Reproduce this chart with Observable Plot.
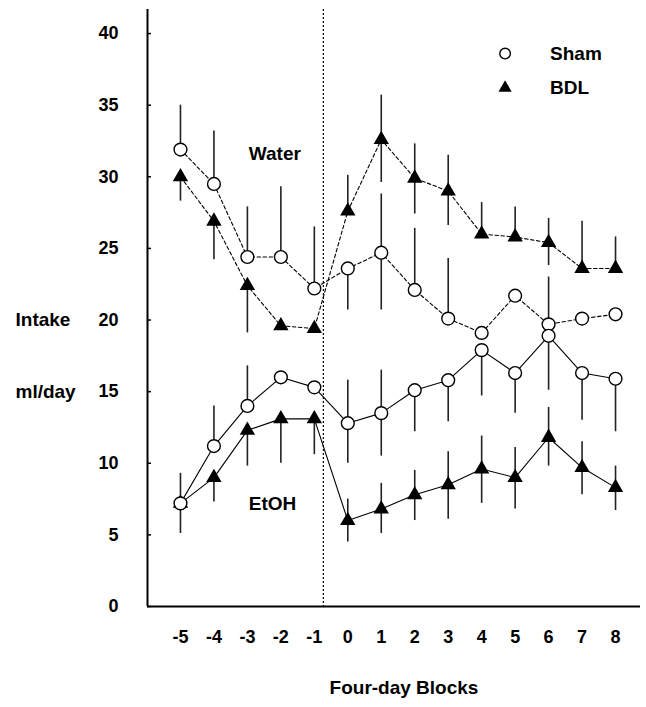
<!DOCTYPE html>
<html>
<head>
<meta charset="utf-8">
<script src="https://cdn.jsdelivr.net/npm/d3@7"></script>
<script src="https://cdn.jsdelivr.net/npm/@observablehq/plot@0.6"></script>
<style>
  html, body { margin: 0; padding: 0; background: #fff; }
  #chart { width: 646px; height: 707px; }
</style>
</head>
<body>
<div id="chart"></div>
<script>
// ---- data ----
const blocks = [-5, -4, -3, -2, -1, 0, 1, 2, 3, 4, 5, 6, 7, 8];
const yTicks = [0, 5, 10, 15, 20, 25, 30, 35, 40];
const seriesNames = ["Sham", "BDL"];

// Water intake (dashed lines)
const waterSham   = [31.9, 29.5, 24.4, 24.4, 22.2, 23.6, 24.7, 22.1, 20.1, 19.1, 21.7, 19.7, 20.1, 20.4];
const waterShamHi = [35.0, 33.2, 27.9, 29.3, 26.5, null, 28.8, 26.4, 24.3, null, null, null, null, null];
const waterShamLo = [null, null, null, null, null, 20.7, 20.7, null, null, null, null, null, null, null];

const waterBDL    = [30.0, 26.9, 22.4, 19.6, 19.4, 27.6, 32.6, 29.9, 29.0, 26.0, 25.8, 25.4, 23.6, 23.6];
const waterBDLHi  = [null, null, null, null, null, 30.1, 35.7, 32.3, 31.5, 28.2, 27.9, 27.1, 26.9, 25.8];
const waterBDLLo  = [28.3, 24.2, 19.1, null, null, null, 29.6, 27.4, 26.6, null, null, 23.8, null, null];

// EtOH intake (solid lines)
const etohSham    = [7.2, 11.2, 14.0, 16.0, 15.3, 12.8, 13.5, 15.1, 15.8, 17.9, 16.3, 18.9, 16.3, 15.9];
const etohShamHi  = [9.3, 14.0, 16.8, null, null, 15.8, 16.5, null, null, null, null, 23.0, null, null];
const etohShamLo  = [null, null, null, null, null, 10.0, 10.5, 12.2, 12.9, 14.7, 13.5, 15.1, 13.0, 12.2];

const etohBDL     = [7.2, 9.0, 12.3, 13.1, 13.1, 6.0, 6.8, 7.8, 8.5, 9.6, 9.0, 11.8, 9.7, 8.3];
const etohBDLHi   = [null, null, null, null, null, 7.5, 8.6, 9.5, 10.8, 11.9, 11.1, 13.9, 11.5, 9.8];
const etohBDLLo   = [5.1, 7.3, 9.8, 10.0, 10.6, 4.5, 5.1, 6.0, 6.1, 7.2, 6.8, 9.8, 7.8, 6.7];

const divider = -0.73; // surgery marker between blocks -1 and 0

// ---- build tidy table ----
function rows(fluid, group, vals, hi, lo) {
  return blocks.map((b, i) => ({
    block: b, fluid, group, key: fluid + "-" + group,
    value: vals[i], hi: hi[i], lo: lo[i]
  }));
}
const data = [
  ...rows("Water", "Sham", waterSham, waterShamHi, waterShamLo),
  ...rows("Water", "BDL", waterBDL, waterBDLHi, waterBDLLo),
  ...rows("EtOH", "Sham", etohSham, etohShamHi, etohShamLo),
  ...rows("EtOH", "BDL", etohBDL, etohBDLHi, etohBDLLo)
];
const bars = data.filter(d => d.hi != null || d.lo != null)
  .map(d => ({...d, y1: d.lo ?? d.value, y2: d.hi ?? d.value}));

const water = data.filter(d => d.fluid === "Water");
const etoh = data.filter(d => d.fluid === "EtOH");
const sham = data.filter(d => d.group === "Sham");
const bdl = data.filter(d => d.group === "BDL");

const xDomain = [-5.985, 8.746];
const yDomain = [0, 41.68];
const font = "'Liberation Sans', Arial, Helvetica, sans-serif";

const legend = seriesNames.map((name, i) => ({name, x: 4.7, y: 38.6 - i * 2.4}));

const chart = Plot.plot({
  width: 646,
  height: 707,
  marginLeft: 147,
  marginRight: 6,
  marginTop: 9,
  marginBottom: 101,
  style: {fontFamily: font, fontWeight: "bold", fontSize: "18px", color: "#000", background: "#fff", overflow: "visible"},
  x: {domain: xDomain},
  y: {domain: yDomain},
  marks: [
    Plot.axisX(blocks, {tickSize: 0, tickPadding: 24, label: null, tickFormat: d => String(d), fontSize: 18, fontWeight: "bold"}),
    Plot.axisY(yTicks, {tickSize: 0, tickPadding: 29, label: null, tickFormat: d => String(d), fontSize: 18, fontWeight: "bold"}),
    Plot.axisY(yTicks, {tickSize: 4, dx: 4, label: null, tickFormat: () => "", strokeWidth: 1.5}),
    Plot.ruleY([yDomain[0]], {strokeWidth: 2}),
    Plot.ruleX([xDomain[0]], {strokeWidth: 2}),
    Plot.ruleX([divider], {strokeDasharray: "2,2", strokeWidth: 1.2}),
    // lines
    Plot.line(water, {x: "block", y: "value", z: "key", stroke: "#000", strokeWidth: 1.1, strokeDasharray: "3.5,2.5"}),
    Plot.line(etoh, {x: "block", y: "value", z: "key", stroke: "#000", strokeWidth: 1.1}),
    // error bars
    Plot.ruleX(bars, {x: "block", y1: "y1", y2: "y2", stroke: "#222", strokeWidth: 1.6}),
    // markers
    Plot.dot(bdl, {x: "block", y: "value", symbol: "triangle", r: 5.7, fill: "#000", stroke: "none"}),
    Plot.dot(sham, {x: "block", y: "value", symbol: "circle", r: 6.4, fill: "#fff", stroke: "#000", strokeWidth: 1.4}),
    // annotations
    Plot.text(["Water"], {x: -2.18, y: 31.6, fontSize: 19, fontWeight: "bold"}),
    Plot.text(["EtOH"], {x: -2.25, y: 7.15, fontSize: 19, fontWeight: "bold"}),
    // legend
    Plot.dot(legend.filter(d => d.name === "Sham"), {x: "x", y: "y", symbol: "circle", r: 5.3, fill: "#fff", stroke: "#000", strokeWidth: 1.4}),
    Plot.dot(legend.filter(d => d.name === "BDL"), {x: "x", y: "y", symbol: "triangle", r: 4.9, fill: "#000"}),
    Plot.text(legend, {x: "x", y: "y", text: "name", dx: 45, textAnchor: "start", fontSize: 19, fontWeight: "bold"}),
    // axis titles
    Plot.text([["Intake", 20], ["ml/day", 15]], {y: d => d[1], text: d => d[0], frameAnchor: "left", dx: -132, textAnchor: "start", fontSize: 19, fontWeight: "bold"}),
    Plot.text(["Four-day Blocks"], {frameAnchor: "bottom", dy: 87, dx: 10, fontSize: 19, fontWeight: "bold"})
  ]
});
document.getElementById("chart").appendChild(chart);
</script>
</body>
</html>
